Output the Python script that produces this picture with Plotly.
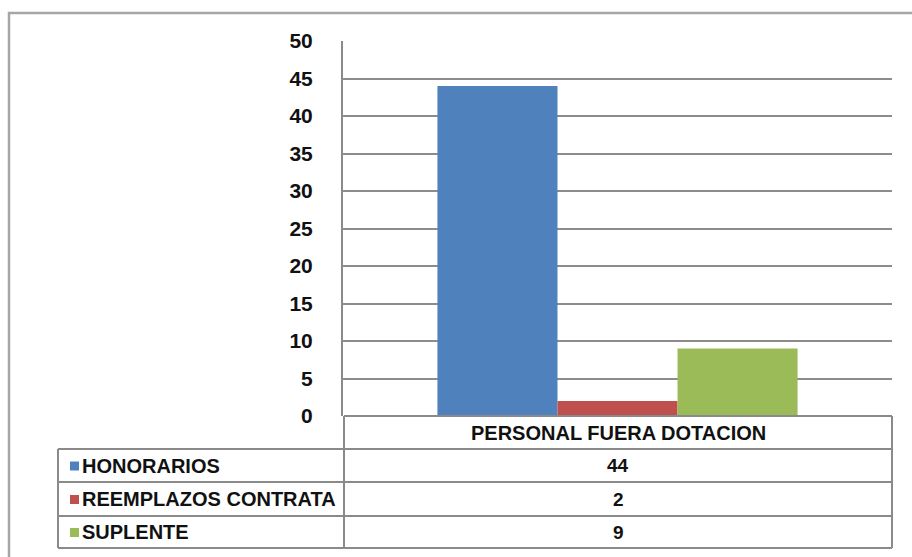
import plotly.graph_objects as go

# ---- data ----
category = ["PERSONAL FUERA DOTACION"]
series_names = ["HONORARIOS", "REEMPLAZOS CONTRATA", "SUPLENTE"]
series_values = [44, 2, 9]
series_colors = ["#4F81BD", "#C0504D", "#9BBB59"]
y_ticks = [0, 5, 10, 15, 20, 25, 30, 35, 40, 45, 50]

W, H = 912, 557
L, R, T, B = 343, 20, 41, 141
PW, PH = W - L - R, H - T - B

def px(x):
    return (x - L) / PW

def py(y):
    return (H - B - y) / PH

fig = go.Figure()
for name, val, col in zip(series_names, series_values, series_colors):
    fig.add_trace(go.Bar(
        x=category, y=[val], name=name,
        marker=dict(color=col, line=dict(width=0)),
        showlegend=False,
    ))

GRID = "#8C8C8C"
LINE = "#8A8A8A"
FONT = "Liberation Sans, Arial, sans-serif"
TXT = "#111111"

fig.update_layout(
    width=W, height=H,
    margin=dict(l=L, r=R, t=T, b=B, pad=0),
    paper_bgcolor="white", plot_bgcolor="white",
    barmode="group", bargap=0.344, bargroupgap=0,
    font=dict(family=FONT, color=TXT),
)
fig.update_xaxes(showticklabels=False, showgrid=False, zeroline=False,
                 showline=False, ticks="")
fig.update_yaxes(range=[0, 50], tickvals=y_ticks, showgrid=True,
                 gridcolor=GRID, gridwidth=1.5, zeroline=False,
                 showline=True, linecolor=LINE, linewidth=2, ticks="",
                 ticklabelstandoff=24,
                 tickfont=dict(family=FONT, size=21, color=TXT, weight="bold"))

shapes = []
def hline(y, x0, x1, w=2, c=LINE):
    shapes.append(dict(type="line", xref="paper", yref="paper",
                       x0=px(x0), x1=px(x1), y0=py(y), y1=py(y),
                       line=dict(color=c, width=w)))
def vline(x, y0, y1, w=2, c=LINE):
    shapes.append(dict(type="line", xref="paper", yref="paper",
                       x0=px(x), x1=px(x), y0=py(y0), y1=py(y1),
                       line=dict(color=c, width=w)))

# outer chart frame
shapes.append(dict(type="rect", xref="paper", yref="paper",
                   x0=px(9), x1=px(918), y0=py(13), y1=py(562),
                   line=dict(color="#A6A6A6", width=2.5), layer="below"))

# data table grid
x_left, x_mid, x_right = 58, 344, 892
row_edges = [416, 449, 482, 516, 548]
hline(416, x_mid, x_right)
for y in row_edges[1:]:
    hline(y, x_left, x_right)
vline(x_mid, 416, 548)
vline(x_right, 416, 548)
vline(x_left, 449, 548)

annotations = []
cx = (x_mid + x_right) / 2
annotations.append(dict(xref="paper", yref="paper", x=px(cx),
                        y=py((row_edges[0] + row_edges[1]) / 2),
                        text=category[0], showarrow=False,
                        xanchor="center", yanchor="middle",
                        font=dict(family=FONT, size=20, color=TXT, weight="bold")))
for i, (name, val, col) in enumerate(zip(series_names, series_values, series_colors)):
    yc = (row_edges[i + 1] + row_edges[i + 2]) / 2
    shapes.append(dict(type="rect", xref="paper", yref="paper",
                       x0=px(70), x1=px(79), y0=py(yc - 4), y1=py(yc + 5),
                       fillcolor=col, line=dict(width=0)))
    annotations.append(dict(xref="paper", yref="paper", x=px(80), y=py(yc),
                            text=name, showarrow=False,
                            xanchor="left", yanchor="middle",
                            font=dict(family=FONT, size=20, color=TXT, weight="bold")))
    annotations.append(dict(xref="paper", yref="paper", x=px(cx), y=py(yc),
                            text=str(val), showarrow=False,
                            xanchor="center", yanchor="middle",
                            font=dict(family=FONT, size=19, color=TXT, weight="bold")))

fig.update_layout(shapes=shapes, annotations=annotations)
fig.write_html("out.html",
               config={"displayModeBar": False},
               post_script="document.body.style.margin='0';document.body.style.overflow='hidden';")
